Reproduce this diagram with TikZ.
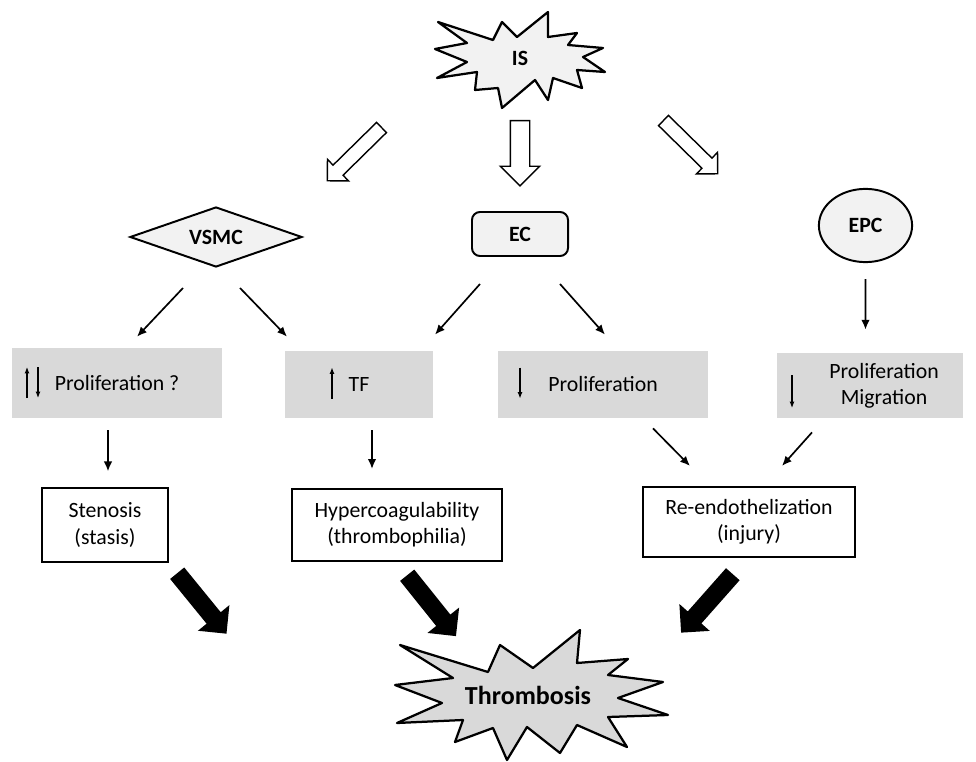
\documentclass[tikz,border=0pt]{standalone}
\usepackage{fontspec}
\setmainfont{Carlito}
\usetikzlibrary{shapes.geometric, shapes.arrows, arrows.meta}
\definecolor{boxgray}{HTML}{D9D9D9}
\definecolor{lightfill}{HTML}{F2F2F2}
\tikzstyle{source} = [draw=black, line width=1.4pt, fill=lightfill, font=\fontsize{15.5}{18.6}\selectfont\bfseries]
\tikzstyle{effect} = [rectangle, fill=boxgray, inner sep=0pt]
\tikzstyle{outcome} = [rectangle, draw=black, line width=1.5pt, fill=white, align=center, inner sep=0pt]
\tikzstyle{hollow} = [single arrow, draw=black, line width=1pt, fill=white, inner xsep=0pt, single arrow head indent=0pt, anchor=tail]
\tikzstyle{bigarrow} = [single arrow, fill=black, inner xsep=0pt, inner ysep=0.22cm, single arrow head extend=0.28cm, single arrow head indent=0pt, minimum height=1.95cm, anchor=tail]
\tikzstyle{burst} = [draw=black, line width=1.6pt, line join=round]
\tikzstyle{arrow} = [line width=1.2pt, -{Latex[length=7pt, width=6pt]}]
\tikzstyle{updown} = [line width=0.8pt, -{Latex[length=4.5pt, width=3.5pt]}]

\begin{document}
\begin{tikzpicture}[x=0.025cm, y=-0.025cm, font=\fontsize{15.5}{18.6}\selectfont]
	\useasboundingbox (0,0) rectangle (976,762);
	
	% injury source
	\draw [burst, fill=lightfill] (438,22) -- (493,40) -- (502,22) -- (517,37) -- (548,12) -- (548,37) -- (577,33) -- (568,45) -- (603,48) -- (583,57) -- (605,72) -- (577,70) -- (582,88) -- (553,78) -- (548,100) -- (535,80) -- (502,108) -- (498,88) -- (475,90) -- (477,72) -- (437,78) -- (467,62) -- (435,49) -- (467,43) -- cycle;
	\node (is) at (520,58) {\bfseries IS};
	
	\node (toVsmc) [hollow, inner ysep=0.16cm, single arrow head extend=0.2cm, minimum height=1.9cm, rotate=224.5] at (382,127) {};
	\node (toEc) [hollow, inner ysep=0.225cm, single arrow head extend=0.25cm, minimum height=1.63cm, rotate=270] at (520,120) {};
	\node (toEpc) [hollow, inner ysep=0.16cm, single arrow head extend=0.2cm, minimum height=1.9cm, rotate=-44.5] at (663,120) {};
	
	\node (vsmc) [diamond, source, aspect=2.8, minimum width=4.3cm, minimum height=1.5cm, inner sep=0pt] at (216,237) {VSMC};
	\node (ec) [rectangle, rounded corners=0.2cm, source, minimum width=2.4cm, minimum height=1.1cm] at (520,234) {EC};
	\node (epc) [ellipse, source, minimum width=2.33cm, minimum height=1.83cm] at (865.5,225.5) {EPC};
	
	% cell effects
	\node (prolA) [effect, minimum width=5.25cm, minimum height=1.75cm] at (117,383) {Proliferation ?};
	\node (tf) [effect, minimum width=3.7cm, minimum height=1.68cm] at (359,384.5) {TF};
	\node (prolB) [effect, minimum width=5.25cm, minimum height=1.68cm] at (603,384.5) {Proliferation};
	\node (prolC) [effect, minimum width=4.65cm, minimum height=1.63cm, text width=4.65cm, align=center] at (870,385.5) {\hspace*{0.7cm}Proliferation\\\hspace*{0.7cm}Migration};
	
	\draw [updown] ([shift={(-90,15)}]prolA.center) -- ++(0,-31);
	\draw [updown] ([shift={(-79,-16)}]prolA.center) -- ++(0,31);
	\draw [updown] ([shift={(-27,14)}]tf.center) -- ++(0,-31);
	\draw [updown] ([shift={(-83,-17)}]prolB.center) -- ++(0,31);
	\draw [updown] ([shift={(-78,-10.5)}]prolC.center) -- ++(0,33);
	
	% outcomes
	\node (sten) [outcome, minimum width=3.15cm, minimum height=1.83cm] at (105,525) {Stenosis\\(stasis)};
	\node (hyper) [outcome, minimum width=5.25cm, minimum height=1.8cm] at (397,525) {Hypercoagulability\\(thrombophilia)};
	\node (reendo) [outcome, minimum width=5.3cm, minimum height=1.75cm] at (749,522) {Re-endothelization\\(injury)};
	
	\node (bigA) [bigarrow, rotate=-50.8] at (177,573) {};
	\node (bigB) [bigarrow, rotate=-51.3] at (407,575) {};
	\node (bigC) [bigarrow, rotate=228.5] at (733,574) {};
	
	\draw [burst, fill=boxgray] (400,645) -- (488,672) -- (500,645) -- (533,668) -- (580,630) -- (577,663) -- (628,659) -- (608,675) -- (663,682) -- (618,698) -- (668,715) -- (608,717) -- (627,747) -- (577,725) -- (560,753) -- (527,727) -- (507,760) -- (493,728) -- (455,742) -- (463,720) -- (397,723) -- (442,703) -- (395,685) -- (453,678) -- cycle;
	\node (thromb) at (528,695) {\fontsize{18.5}{22}\selectfont\bfseries Thrombosis};
	
	\draw [arrow] ([shift={(-33,20)}]vsmc.south) -- ([shift={(20,-11)}]prolA.north);
	\draw [arrow] ([shift={(24,20)}]vsmc.south) -- ([shift={(-72,-14)}]tf.north);
	\draw [arrow] ([shift={(-40,27)}]ec.south) -- ([shift={(76,-16)}]tf.north);
	\draw [arrow] ([shift={(40,27)}]ec.south) -- ([shift={(2,-16)}]prolB.north);
	\draw [arrow] ([shift={(0,16)}]epc.south) -- ([shift={(-4.5,-23)}]prolC.north);
	
	\draw [arrow] ([shift={(-9,12)}]prolA.south) -- ([shift={(3,-16)}]sten.north);
	\draw [arrow] ([shift={(13,12)}]tf.south) -- ([shift={(-25,-19)}]hyper.north);
	\draw [arrow] ([shift={(50,10)}]prolB.south) -- ([shift={(-59,-20)}]reendo.north);
	\draw [arrow] ([shift={(-58,14)}]prolC.south) -- ([shift={(33,-20)}]reendo.north);
\end{tikzpicture}
\end{document}
